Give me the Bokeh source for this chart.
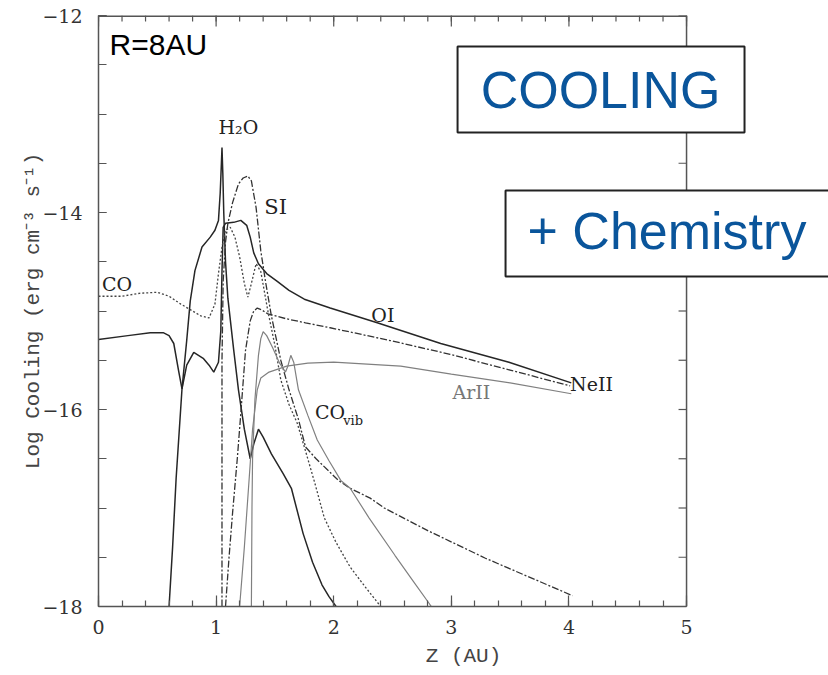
from bokeh.plotting import figure
from bokeh.models import Range1d, LinearAxis, FixedTicker
from bokeh.embed import file_html
from bokeh.resources import INLINE
from bokeh.core.properties import value

# ---------------- data ----------------
oi_z = [0, 0.25, 0.44, 0.55, 0.60, 0.64, 0.68, 0.71, 0.75, 0.81, 0.89, 0.94, 0.98, 1.02, 1.04,
        1.05, 1.06, 1.08, 1.15, 1.21, 1.26, 1.29, 1.32, 1.36, 1.43, 1.52, 1.62, 1.75, 1.97,
        2.37, 2.91, 3.49, 4.02]
oi_c = [-15.29, -15.25, -15.22, -15.22, -15.25, -15.33, -15.6, -15.79, -15.55, -15.42, -15.48,
        -15.55, -15.62, -15.52, -15.2, -14.6, -14.15, -14.11, -14.10, -14.08, -14.13, -14.25,
        -14.41, -14.52, -14.62, -14.7, -14.79, -14.88, -14.97, -15.12, -15.33, -15.52, -15.73]

h2o_z = [0.60, 0.63, 0.66, 0.71, 0.75, 0.78, 0.82, 0.88, 0.95, 0.99, 1.02, 1.035, 1.045, 1.05,
         1.057, 1.065, 1.08, 1.10, 1.15, 1.19, 1.24, 1.29, 1.32, 1.36, 1.40, 1.47, 1.57, 1.64,
         1.74, 1.82, 1.90, 1.96, 2.02]
h2o_c = [-18, -17.4, -16.7, -15.79, -15.3, -14.9, -14.59, -14.35, -14.25, -14.18, -14.08, -13.8,
         -13.5, -13.34, -13.6, -14.0, -14.5, -14.87, -15.4, -15.8, -16.2, -16.5, -16.35, -16.2,
         -16.28, -16.45, -16.65, -16.8, -17.26, -17.55, -17.78, -17.9, -18]

si_z = [1.05, 1.05, 1.06, 1.08, 1.10, 1.14, 1.19, 1.23, 1.27, 1.30, 1.34, 1.38, 1.42, 1.47, 1.55,
        1.62, 1.70, 1.76, 1.85, 2.04, 2.14, 2.31, 2.43, 2.8, 3.29, 4.03]
si_c = [-18, -15.5, -14.7, -14.3, -14.11, -13.9, -13.71, -13.65, -13.63, -13.68, -13.95, -14.39,
        -14.7, -15.05, -15.5, -15.8, -16.1, -16.38, -16.5, -16.72, -16.8, -16.9, -17.0, -17.23,
        -17.51, -17.89]

neii_z = [1.08, 1.11, 1.14, 1.18, 1.21, 1.25, 1.29, 1.32, 1.35, 1.39, 1.44, 1.6, 1.76, 1.97,
          2.48, 2.99, 3.5, 4.01]
neii_c = [-18, -17.5, -17.05, -16.5, -16.04, -15.4, -15.1, -15.0, -14.97, -14.99, -15.03, -15.08,
          -15.12, -15.17, -15.3, -15.44, -15.6, -15.76]

arii_z = [1.20, 1.24, 1.28, 1.31, 1.35, 1.38, 1.45, 1.6, 1.78, 2.0, 2.57, 3.0, 3.5, 4.02]
arii_c = [-18, -17.4, -16.72, -16.2, -15.8, -15.68, -15.62, -15.56, -15.53, -15.52, -15.56,
          -15.64, -15.73, -15.84]

covib_z = [1.30, 1.305, 1.31, 1.33, 1.36, 1.38, 1.40, 1.43, 1.48, 1.54, 1.59, 1.61, 1.635, 1.66,
           1.70, 1.78, 1.86, 1.96, 2.06, 2.14, 2.3, 2.52, 2.68, 2.83]
covib_c = [-18, -17.0, -16.5, -15.9, -15.45, -15.28, -15.21, -15.25, -15.37, -15.53, -15.62,
           -15.56, -15.45, -15.52, -15.8, -16.06, -16.31, -16.52, -16.72, -16.8, -17.1, -17.48,
           -17.75, -18]

co_z = [0, 0.2, 0.35, 0.5, 0.6, 0.7, 0.8, 0.87, 0.94, 0.99, 1.02, 1.05, 1.08, 1.12, 1.16, 1.20,
        1.24, 1.27, 1.30, 1.34, 1.38, 1.44, 1.50, 1.55, 1.62, 1.69, 1.76, 1.84, 1.92, 2.02, 2.14,
        2.28, 2.40]
co_c = [-14.85, -14.85, -14.82, -14.81, -14.85, -14.93, -15.0, -15.05, -15.07, -14.93, -14.62,
        -14.35, -14.18, -14.15, -14.25, -14.45, -14.72, -14.86, -14.72, -14.52, -14.6, -15.0,
        -15.35, -15.7, -15.95, -16.14, -16.42, -16.75, -17.1, -17.35, -17.6, -17.82, -18]

x_major = [0, 1, 2, 3, 4, 5]
x_minor = [round(0.2 * i, 1) for i in range(26)]
y_major = [-18, -16, -14, -12]
y_minor = [-18 + 0.5 * i for i in range(13)]
y_labels = {-18: "\u221218", -16: "\u221216", -14: "\u221214", -12: "\u221212"}

X_MIN, X_MAX = 0, 5
Y_MIN, Y_MAX = -18, -12
X_VIEW_END = 6.207   # frame continues to the page edge so the text boxes can overhang

# ---------------- figure ----------------
p = figure(width=828, height=675, output_backend="svg", toolbar_location=None,
           x_range=Range1d(X_MIN, X_VIEW_END), y_range=Range1d(Y_MIN, Y_MAX),
           x_axis_location=None, y_axis_location=None,
           min_border_left=98, min_border_right=0, min_border_top=15, min_border_bottom=69)
p.outline_line_color = None
p.xgrid.visible = False
p.ygrid.visible = False
p.background_fill_color = "white"
p.border_fill_color = "white"

FRAME = "#555555"
SERIF = "DejaVu Serif"

def style_axis(ax, major_in, minor_in):
    ax.axis_line_color = FRAME
    ax.axis_line_width = 1.5
    ax.major_tick_in = major_in
    ax.major_tick_out = 0
    ax.minor_tick_in = minor_in
    ax.minor_tick_out = 0
    ax.major_tick_line_color = FRAME
    ax.minor_tick_line_color = FRAME
    ax.major_tick_line_width = 1.2
    ax.minor_tick_line_width = 1.2
    ax.major_label_text_font = SERIF
    ax.major_label_text_color = "#333333"
    ax.major_label_text_font_size = "19px"
    ax.axis_label_text_font = "Liberation Mono"
    ax.axis_label_text_font_style = "normal"
    ax.axis_label_text_color = "#444444"
    ax.axis_label_text_font_size = "21px"

xb = LinearAxis(ticker=FixedTicker(ticks=x_major, minor_ticks=x_minor), bounds=(X_MIN, X_MAX),
                axis_label="Z (AU)")
style_axis(xb, 11, 6)
xb.major_label_standoff = 13
xb.axis_label_standoff = 8
p.add_layout(xb, "below")

yl = LinearAxis(ticker=FixedTicker(ticks=y_major, minor_ticks=y_minor),
                axis_label="Log Cooling (erg cm\u207b\u00b3 s\u207b\u00b9)")
style_axis(yl, 8, 8)
yl.major_label_overrides = y_labels
yl.major_label_standoff = 16
yl.axis_label_standoff = -6
p.add_layout(yl, "left")

# top and right edges of the frame with their inward ticks
px_x = 117.6   # pixels per AU
px_y = 98.5    # pixels per decade
p.segment(x0=[X_MIN], y0=[Y_MAX], x1=[X_MAX], y1=[Y_MAX], line_color=FRAME, line_width=3)
p.segment(x0=x_minor, y0=[Y_MAX] * len(x_minor), x1=x_minor,
          y1=[Y_MAX - 6 / px_y] * len(x_minor), line_color=FRAME, line_width=1.2)
p.segment(x0=x_major, y0=[Y_MAX] * len(x_major), x1=x_major,
          y1=[Y_MAX - 11 / px_y] * len(x_major), line_color=FRAME, line_width=1.2)
p.segment(x0=[X_MAX], y0=[Y_MIN], x1=[X_MAX], y1=[Y_MAX], line_color=FRAME, line_width=1.5)
p.segment(x0=[X_MAX] * len(y_minor), y0=y_minor, x1=[X_MAX - 8 / px_x] * len(y_minor),
          y1=y_minor, line_color=FRAME, line_width=1.2)

# ---------------- curves ----------------
DARK = "#262626"
GREY = "#808080"
p.line(oi_z, oi_c, line_color=DARK, line_width=1.5)
p.line(h2o_z, h2o_c, line_color=DARK, line_width=1.5)
p.line(si_z, si_c, line_color="#333333", line_width=1.3, line_dash="7 2 2 2")
p.line(neii_z, neii_c, line_color="#333333", line_width=1.3, line_dash="7 2 2 2")
p.line(co_z, co_c, line_color="#444444", line_width=1.3, line_dash="2 2")
p.line(arii_z, arii_c, line_color=GREY, line_width=1.2)
p.line(covib_z, covib_c, line_color=GREY, line_width=1.2)

# ---------------- curve labels ----------------
def lab(x, y, t, size="19px", color="#222222", font=SERIF, align="left"):
    p.text(x=[x], y=[y], text=[t], text_font=value(font), text_font_size=size,
           text_color=color, text_align=align, text_baseline="alphabetic")

lab(1.02, -13.13, "H\u2082O")
lab(1.41, -13.94, "SI", size="21px")
lab(0.03, -14.73, "CO")
lab(2.32, -15.04, "OI")
lab(4.01, -15.74, "NeII")
lab(3.01, -15.82, "ArII", color="#777777")
lab(1.84, -16.03, "CO")
lab(2.08, -16.11, "vib", size="13px")

# ---------------- annotation boxes ----------------
lab(0.094, -12.29, "R=8AU", size="30px", color="black", font="Liberation Sans")

p.quad(left=[3.053], right=[5.493], top=[-12.315], bottom=[-13.188],
       fill_color="white", line_color="#222222", line_width=2)
p.quad(left=[3.461], right=[6.4], top=[-13.777], bottom=[-14.65],
       fill_color="white", line_color="#222222", line_width=2)
BLUE = "#0a559b"
lab(4.269, -12.76, "COOLING", size="52px", color=BLUE, font="Liberation Sans", align="center")
lab(3.648, -14.19, "+ Chemistry", size="52px", color=BLUE, font="Liberation Sans")

open("out.html", "w").write(file_html(p, INLINE))
